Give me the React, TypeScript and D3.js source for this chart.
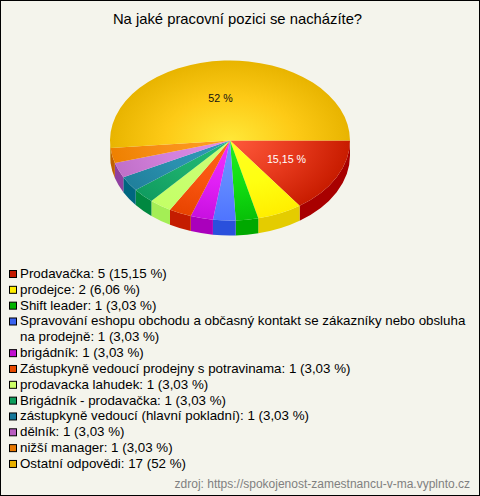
import React from "react";
import * as d3 from "d3";

const categories = [
  "Prodavačka", "prodejce", "Shift leader",
  "Spravování eshopu obchodu a občasný kontakt se zákazníky nebo obsluha\nna prodejně",
  "brigádník", "Zástupkyně vedoucí prodejny s potravinama", "prodavacka lahudek",
  "Brigádník - prodavačka", "zástupkyně vedoucí (hlavní pokladní)", "dělník",
  "nižší manager", "Ostatní odpovědi",
];
const counts = [5, 2, 1, 1, 1, 1, 1, 1, 1, 1, 1, 17];
const percents = ["15,15", "6,06", "3,03", "3,03", "3,03", "3,03", "3,03", "3,03", "3,03", "3,03", "3,03", "52"];
const swatch = ["#c41a00", "#ffee00", "#00b300", "#3a63f0", "#c010d0", "#e84a00", "#ccff66", "#0d9e5c", "#14789a", "#b85cc0", "#e87800", "#e8b000"];
const inner = ["#ff5a3c", "#ffff22", "#22ee22", "#6f94ff", "#f030ff", "#ff6418", "#ccff77", "#22bb77", "#3399bb", "#e090e8", "#ffa020", "#ffe838"];
const middle = ["#e6391c", "#ffff11", "#12dd12", "#6088ff", "#e020f4", "#f85410", "#c8ff70", "#1cae6c", "#2a90ae", "#d280dc", "#f89018", "#fdca16"];
const outer = ["#c81c00", "#ffee00", "#08c008", "#4f74ff", "#c810e0", "#e84400", "#c4ff66", "#109c60", "#20809c", "#c070c8", "#ee8000", "#e8b400"];
const side = ["#a80000", "#e4cc00", "#00a800", "#2a50dc", "#aa00bc", "#c41c00", "#a4ee55", "#008840", "#006680", "#9040a0", "#c06000", "#c09000"];

const W = 480, H = 496, CX = 230, CY = 140.5, RX = 120, RY = 80, DEPTH = 15;
const FONT = "'Liberation Sans', Arial, sans-serif";

export default function App() {
  const ky = RY / RX;
  const pie = d3.pie<number>().sort(null).startAngle(Math.PI / 2).endAngle(Math.PI * 2.5);
  const arcs = pie(counts);
  const arc = d3.arc<d3.PieArcDatum<number>>().innerRadius(0).outerRadius(RX);

  const sidePath = (a0: number, a1: number) => {
    const s = Math.max(a0 - Math.PI / 2, 0), e = Math.min(a1 - Math.PI / 2, Math.PI);
    if (e <= s) return "";
    const p = d3.path();
    p.arc(0, 0, RX, s, e);
    p.arc(0, DEPTH / ky, RX, e, s, true);
    p.closePath();
    return p.toString();
  };

  const rows: { text: string; y: number; idx: number; first: boolean }[] = [];
  let y = 278;
  categories.forEach((c, i) => {
    const lines = `${c}: ${counts[i]} (${percents[i]} %)`.split("\n");
    lines.forEach((t, j) => {
      rows.push({ text: t, y, idx: i, first: j === 0 });
      y += 15.83;
    });
  });

  return (
    <svg width={W} height={H} viewBox={`0 0 ${W} ${H}`} style={{ position: "fixed", left: 0, top: 0, display: "block" }} fontFamily={FONT}>
      <defs>
        {inner.map((c, i) => (
          <radialGradient key={i} id={`g${i}`} gradientUnits="userSpaceOnUse" cx={0} cy={0} r={RX}>
            <stop offset="0" stopColor={c} />
            <stop offset="0.55" stopColor={middle[i]} />
            <stop offset="1" stopColor={outer[i]} />
          </radialGradient>
        ))}
      </defs>
      <rect x={0.5} y={0.5} width={W - 1} height={H - 1} fill="#f4f4ec" stroke="#000" />
      <text x={237.5} y={24} textAnchor="middle" fontSize={14.8} fill="#000">Na jaké pracovní pozici se nacházíte?</text>
      <g transform={`translate(${CX},${CY}) scale(1,${ky})`}>
        {arcs.map((a, i) => <path key={i} d={sidePath(a.startAngle, a.endAngle)} fill={side[i]} />)}
        {arcs.map((a, i) => <path key={i} d={arc(a) as string} fill={`url(#g${i})`} />)}
      </g>
      <text x={286.5} y={163} textAnchor="middle" fontSize={10.67} fill="#fff">15,15 %</text>
      <text x={220.5} y={102} textAnchor="middle" fontSize={10.67} fill="#111">52 %</text>
      {rows.map((r, i) => (
        <g key={i}>
          {r.first && <rect x={9.5} y={r.y - 7.5} width={7} height={7} fill={swatch[r.idx]} stroke="#000" />}
          <text x={20} y={r.y} fontSize={13.33} fill="#000">{r.text}</text>
        </g>
      ))}
      <text x={470} y={488} textAnchor="end" fontSize={12} fill="#808080">zdroj: https://spokojenost-zamestnancu-v-ma.vyplnto.cz</text>
    </svg>
  );
}
